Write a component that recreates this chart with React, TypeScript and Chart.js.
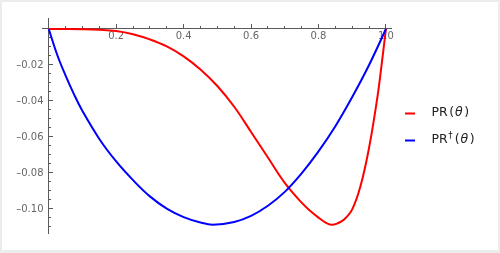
import React, { useEffect, useRef } from "react";
import { Chart, registerables } from "chart.js";

Chart.register(...registerables);

// θ samples and values
const THETA_RED = [0, 0.05, 0.1, 0.15, 0.2, 0.25, 0.3, 0.35, 0.4, 0.45, 0.5, 0.55, 0.6, 0.65, 0.7, 0.75, 0.775, 0.8, 0.82, 0.837, 0.855, 0.875, 0.9, 0.925, 0.95, 0.975, 0.99, 1.0];
const RED_VALUES = [0, 0, -0.0001, -0.0004, -0.0011, -0.0029, -0.0058, -0.0097, -0.0152, -0.0225, -0.0317, -0.0432, -0.0572, -0.0714, -0.0855, -0.0965, -0.1010, -0.1048, -0.1074, -0.1087, -0.1081, -0.1060, -0.1002, -0.0870, -0.0660, -0.0375, -0.0155, 0];

const THETA_BLUE = [0, 0.025, 0.05, 0.075, 0.1, 0.15, 0.2, 0.25, 0.3, 0.35, 0.4, 0.45, 0.487, 0.55, 0.6, 0.65, 0.7, 0.75, 0.8, 0.85, 0.9, 0.95, 1.0];
const BLUE_VALUES = [0, -0.0143, -0.0259, -0.0363, -0.0456, -0.0611, -0.0736, -0.0840, -0.0930, -0.0998, -0.1045, -0.1075, -0.1087, -0.1072, -0.1038, -0.0982, -0.0905, -0.0802, -0.0680, -0.0540, -0.0378, -0.0200, 0];

const SERIES_LABELS = ["PR", "PR†"];

const X_MAJOR_TICKS = [0.2, 0.4, 0.6, 0.8, 1.0];
const X_TICK_LABELS = ["0.2", "0.4", "0.6", "0.8", "1.0"];
const X_MINOR_TICKS = [0.05, 0.1, 0.15, 0.25, 0.3, 0.35, 0.45, 0.5, 0.55, 0.65, 0.7, 0.75, 0.85, 0.9, 0.95];

const Y_MAJOR_TICKS = [-0.02, -0.04, -0.06, -0.08, -0.1];
const Y_TICK_LABELS = ["–0.02", "–0.04", "–0.06", "–0.08", "–0.10"];
const Y_MINOR_TICKS = [-0.005, -0.01, -0.015, -0.025, -0.03, -0.035, -0.045, -0.05, -0.055, -0.065, -0.07, -0.075, -0.085, -0.09, -0.095, -0.105, -0.11];

const RED = "#ff0000";
const BLUE = "#0000ff";
const AXIS = "#5a5a5a";
const LABEL = "#666666";
const FONT = "'DejaVu Sans', sans-serif";

const framePlugin = {
  id: "frame",
  beforeDraw(chart: any) {
    const { ctx, width, height } = chart;
    ctx.save();
    ctx.fillStyle = "#ececec";
    ctx.fillRect(0, 0, width, height);
    ctx.fillStyle = "#ffffff";
    ctx.fillRect(2, 2, width - 4, height - 5);
    ctx.restore();
  },
};

const axesPlugin = {
  id: "mmaAxes",
  beforeDatasetsDraw(chart: any) {
    const { ctx, chartArea, scales } = chart;
    const xs = scales.x;
    const ys = scales.y;
    const x0 = Math.floor(xs.getPixelForValue(0)) + 0.5;
    const y0 = Math.floor(ys.getPixelForValue(0)) + 0.5;
    ctx.save();
    ctx.strokeStyle = AXIS;
    ctx.lineWidth = 1;
    ctx.beginPath();
    ctx.moveTo(chartArea.left, y0);
    ctx.lineTo(chartArea.right, y0);
    ctx.moveTo(x0, chartArea.top);
    ctx.lineTo(x0, chartArea.bottom);
    X_MAJOR_TICKS.forEach((v) => {
      const px = Math.floor(xs.getPixelForValue(v)) + 0.5;
      ctx.moveTo(px, y0);
      ctx.lineTo(px, y0 - 4.5);
    });
    X_MINOR_TICKS.forEach((v) => {
      const px = Math.floor(xs.getPixelForValue(v)) + 0.5;
      ctx.moveTo(px, y0);
      ctx.lineTo(px, y0 - 2.5);
    });
    Y_MAJOR_TICKS.forEach((v) => {
      const py = Math.floor(ys.getPixelForValue(v)) + 0.5;
      ctx.moveTo(x0, py);
      ctx.lineTo(x0 + 4.5, py);
    });
    Y_MINOR_TICKS.forEach((v) => {
      const py = Math.floor(ys.getPixelForValue(v)) + 0.5;
      ctx.moveTo(x0, py);
      ctx.lineTo(x0 + 2.5, py);
    });
    ctx.stroke();

    ctx.fillStyle = LABEL;
    ctx.font = `10px ${FONT}`;
    ctx.textAlign = "center";
    ctx.textBaseline = "top";
    X_MAJOR_TICKS.forEach((v, i) => {
      ctx.fillText(X_TICK_LABELS[i], xs.getPixelForValue(v), y0 + 2.5);
    });
    ctx.textAlign = "right";
    ctx.textBaseline = "middle";
    Y_MAJOR_TICKS.forEach((v, i) => {
      ctx.fillText(Y_TICK_LABELS[i], x0 - 5, ys.getPixelForValue(v));
    });
    ctx.restore();
  },
};

const legendPlugin = {
  id: "mmaLegend",
  afterDraw(chart: any) {
    const { ctx } = chart;
    const entries = [
      { color: RED, y: 113.5, sup: false, name: SERIES_LABELS[0] },
      { color: BLUE, y: 140.5, sup: true, name: "PR" },
    ];
    ctx.save();
    entries.forEach((e) => {
      ctx.strokeStyle = e.color;
      ctx.lineWidth = 2;
      ctx.beginPath();
      ctx.moveTo(405, e.y);
      ctx.lineTo(415, e.y);
      ctx.stroke();
      const base = e.y + 2.8;
      let x = 431.5;
      ctx.fillStyle = "#222222";
      ctx.textAlign = "left";
      ctx.textBaseline = "alphabetic";
      ctx.font = `12.5px ${FONT}`;
      ctx.fillText(e.name, x, base);
      x += ctx.measureText(e.name).width;
      if (e.sup) {
        ctx.font = `9px ${FONT}`;
        ctx.fillText("†", x + 0.5, base - 5);
        x += ctx.measureText("†").width + 1;
        ctx.font = `12.5px ${FONT}`;
      }
      x += 1.5;
      ctx.fillText("(", x, base);
      x += ctx.measureText("(").width + 1;
      ctx.font = `italic 12.5px ${FONT}`;
      ctx.fillText("θ", x, base);
      x += ctx.measureText("θ").width + 1.5;
      ctx.font = `12.5px ${FONT}`;
      ctx.fillText(")", x, base);
    });
    ctx.restore();
  },
};

export default function App() {
  const ref = useRef<HTMLCanvasElement | null>(null);
  useEffect(() => {
    if (!ref.current) return;
    const chart = new Chart(ref.current, {
      type: "scatter",
      data: {
        datasets: [
          {
            label: SERIES_LABELS[0],
            data: THETA_RED.map((t, i) => ({ x: t, y: RED_VALUES[i] })),
            borderColor: RED,
            backgroundColor: RED,
            borderWidth: 2,
            showLine: true,
            pointRadius: 0,
            tension: 0.4,
            order: 1,
          },
          {
            label: SERIES_LABELS[1],
            data: THETA_BLUE.map((t, i) => ({ x: t, y: BLUE_VALUES[i] })),
            borderColor: BLUE,
            backgroundColor: BLUE,
            borderWidth: 2,
            showLine: true,
            pointRadius: 0,
            tension: 0.4,
            order: 0,
          },
        ],
      },
      options: {
        animation: false,
        responsive: false,
        maintainAspectRatio: false,
        devicePixelRatio: 1,
        layout: { padding: { left: 42, right: 108, top: 18, bottom: 19 } },
        plugins: { legend: { display: false }, tooltip: { enabled: false } },
        scales: {
          x: { type: "linear", min: -0.02, max: 1.018, display: false },
          y: { type: "linear", min: -0.1139, max: 0.0061, display: false },
        },
      },
      plugins: [framePlugin, axesPlugin, legendPlugin],
    } as any);
    return () => chart.destroy();
  }, []);
  return (
    <div style={{ position: "fixed", left: 0, top: 0, width: 500, height: 253 }}>
      <canvas ref={ref} width={500} height={253} style={{ width: 500, height: 253, display: "block" }} />
    </div>
  );
}
